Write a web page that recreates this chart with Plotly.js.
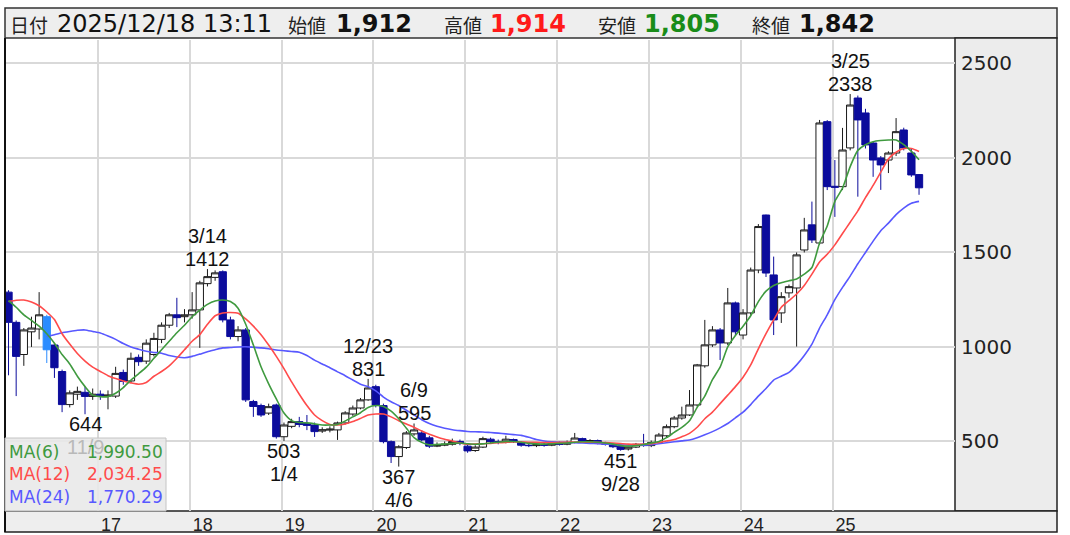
<!DOCTYPE html>
<html><head><meta charset="utf-8">
<script src="https://cdn.plot.ly/plotly-3.0.1.min.js"></script>
<style>html,body{margin:0;padding:0;background:#fff;}#chart{width:1070px;height:535px;}</style>
</head><body><div id="chart"></div>
<script>
// ---- data (monthly candles, Jan 2016 .. Dec 2025) ----
const yearLabels = ['17','18','19','20','21','22','23','24','25'];
const yearStartIndex = [12,24,36,48,60,72,84,96,108];

const open = [
1290,1130,960,1080,1095,1160,1010,870,695,750,
760,738,750,740,740,865,820,945,925,960,
1040,1115,1170,1160,1170,1196,1335,1368,1398,1143,
1055,1090,711,690,650,693,525,580,605,595,
587,555,560,561,598,645,677,720,790,690,
499,420,468,540,545,519,475,480,485,500,
475,452,470,512,500,495,510,495,480,478,
485,480,490,485,495,515,500,505,492,485,
475,460,470,485,478,495,530,578,624,640,
693,900,1011,1090,1021,1233,1063,1180,1407,1698,
1381,1180,1286,1312,1513,1646,1550,2192,1850,1848,
2053,2317,2238,2079,2000,1989,2026,2148,2026,1912];
const high = [
1300,1140,1100,1160,1290,1170,1020,880,770,790,
790,780,770,770,895,880,970,960,1040,1075,
1130,1180,1260,1200,1290,1350,1412,1405,1405,1160,
1110,1100,720,700,700,700,600,620,630,640,
600,575,580,605,660,690,730,831,800,700,
505,480,555,595,560,530,495,500,515,510,
490,480,525,520,510,530,515,500,490,495,
492,498,500,505,545,520,512,510,498,490,
482,478,492,540,505,545,590,635,684,772,
910,1143,1110,1100,1312,1240,1200,1420,1650,1700,
1478,1290,1330,1500,1683,1769,2201,2200,1989,2159,
2338,2330,2260,2085,2010,2035,2211,2160,2050,1914];
const low = [
850,740,900,1000,1040,915,836,655,680,720,
644,720,720,670,730,800,810,900,910,950,
1020,1100,1105,1130,1150,995,1320,1350,1130,1040,
1030,709,630,630,640,515,503,570,575,560,
524,545,548,508,590,635,670,715,680,490,
386,367,460,530,500,465,470,475,478,480,
440,445,465,490,485,490,492,472,470,470,
472,475,478,480,490,495,492,485,478,465,
451,452,465,472,470,490,520,570,615,635,
685,890,1000,931,1010,1060,1040,1170,1390,1370,
1063,1127,1260,1002,1500,1550,1540,1830,1688,1830,
2040,1795,2050,1900,1831,1920,2010,2040,1900,1805];
const close = [
1130,950,1090,1100,1170,985,890,695,757,765,
738,750,740,745,860,818,940,922,1020,1045,
1115,1170,1155,1170,1196,1339,1372,1392,1143,1055,
1090,720,685,640,684,525,587,605,590,585,
552,562,565,598,651,677,720,783,693,499,
420,472,545,561,508,475,480,485,500,490,
450,470,515,500,495,512,500,480,478,485,
480,490,485,495,518,500,505,492,485,472,
458,470,485,478,495,534,578,624,640,693,
905,1011,1090,1021,1233,1080,1180,1407,1637,1391,
1143,1266,1319,1487,1619,1566,2185,1848,1845,2042,
2280,2201,2069,1989,1963,2026,2139,2053,1910,1842];

const ma6 = [
1245,1210,1170,1140,1110,1070,1020,960,910,845,
790,745,737,737,755,785,825,858,893,940,
985,1030,1075,1115,1160,1195,1225,1243,1248,1240,
1205,1120,1010,895,805,725,650,610,600,598,
593,587,587,590,608,630,652,680,690,685,
660,620,570,520,495,482,484,486,490,492,
488,485,487,492,496,500,500,496,490,487,
486,488,490,492,496,498,498,496,492,486,
478,475,478,484,492,500,520,548,575,610,
680,740,827,893,1000,1060,1110,1165,1240,1295,
1325,1340,1350,1360,1385,1420,1550,1640,1770,1840,
1954,2040,2070,2086,2092,2095,2095,2070,2035,1990.5];
const ma12 = [
1240,1247,1248,1238,1218,1185,1145,1070,1015,965,
925,893,870,848,833,820,810,803,812,845,
870,900,940,985,1030,1065,1120,1165,1180,1182,
1178,1148,1110,1065,1010,950,885,815,750,690,
640,610,590,587,592,605,622,640,645,645,
630,610,592,575,555,538,524,512,502,492,
485,486,488,490,493,495,497,497,496,495,
494,494,495,496,497,497,496,495,494,492,
489,486,485,486,488,495,502,510,525,543,
575,620,655,700,745,790,840,905,990,1070,
1143,1210,1245,1280,1325,1385,1450,1490,1540,1600,
1660,1720,1790,1855,1925,1995,2030,2050,2050,2034.25];
const ma24 = [
null,null,null,null,null,1055,1065,1075,1082,1088,
1090,1082,1074,1058,1040,1018,1000,988,977,971,
967,955,947,943,950,962,975,985,995,997,
1000,1001,998,995,990,984,980,976,972,955,
930,910,890,868,848,825,803,790,768,735,
710,690,665,640,615,595,580,570,562,557,
553,551,550,547,544,540,536,532,522,510,
502,498,496,494,493,492,490,488,486,484,
482,481,480,480,483,488,493,498,503,508,
520,535,552,572,595,625,655,695,740,780,
825,845,865,905,955,1015,1100,1170,1250,1315,
1375,1440,1500,1560,1615,1655,1700,1735,1760,1770.29];

const highlightIndex = 5;
const extremeIndex = [26,10,36,47,51,53,80,110];
const extremeKind  = ['high','low','low','high','low','high','low','high'];
const extremeDate  = ['3/14','11/9','1/4','12/23','4/6','6/9','9/28','3/25'];

const headerLabels = ['日付','始値','高値','安値','終値'];
const headerValues = ['2025/12/18 13:11','1,912','1,914','1,805','1,842'];
const maLabels = ['MA(6)','MA(12)','MA(24)'];
const maLast = ['1,990.50','2,034.25','1,770.29'];

// ---- styling / geometry ----
const L = 5, R = 955, T = 40, B = 511;
const px = X => (X - L) / (R - L);
const py = Y => (B - Y) / (B - T);
const NUM_FONT = 'DejaVu Sans, sans-serif';
const LBL_FONT = 'Liberation Sans, Arial, sans-serif';
const JP_FONT = 'Noto Sans CJK JP, sans-serif';
const maColors = ['#3f9a3f', '#ff4b4b', '#5858ff'];
const DOWN = '#0c0c9c';

const idx = open.map((_, i) => i);
const keep = idx.filter(i => i !== highlightIndex);
const pick = (arr, ids) => ids.map(i => arr[i]);

const traces = [
  {type:'candlestick', x:keep, open:pick(open,keep), high:pick(high,keep), low:pick(low,keep), close:pick(close,keep),
   increasing:{line:{color:'#1a1a1a', width:1}, fillcolor:'#ffffff'},
   decreasing:{line:{color:DOWN, width:1}, fillcolor:DOWN},
   whiskerwidth:0, hoverinfo:'skip', showlegend:false},
  {type:'candlestick', x:[highlightIndex], open:[open[highlightIndex]], high:[high[highlightIndex]], low:[low[highlightIndex]], close:[close[highlightIndex]],
   increasing:{line:{color:'#2b8cff', width:1}, fillcolor:'#2b8cff'},
   decreasing:{line:{color:'#2b8cff', width:1}, fillcolor:'#2b8cff'},
   whiskerwidth:0, hoverinfo:'skip', showlegend:false},
  {type:'scatter', mode:'lines', x:idx, y:ma24, line:{color:maColors[2], width:1.6, shape:'spline', smoothing:0.6}, hoverinfo:'skip', showlegend:false},
  {type:'scatter', mode:'lines', x:idx, y:ma12, line:{color:maColors[1], width:1.6, shape:'spline', smoothing:0.6}, hoverinfo:'skip', showlegend:false},
  {type:'scatter', mode:'lines', x:idx, y:ma6, line:{color:maColors[0], width:1.6, shape:'spline', smoothing:0.6}, hoverinfo:'skip', showlegend:false}
];

const annotations = [];
// high / low labels
extremeIndex.forEach((i, k) => {
  const isHigh = extremeKind[k] === 'high';
  const v = isHigh ? high[i] : low[i];
  const s = isHigh ? 1 : -1;
  annotations.push({x:i, y:v, xref:'x', yref:'y', text:String(v), showarrow:false,
    xanchor:'center', yanchor:'middle', yshift:s*10, font:{family:LBL_FONT, size:20, color:'#111'}});
  annotations.push({x:i, y:v, xref:'x', yref:'y', text:extremeDate[k], showarrow:false,
    xanchor:'center', yanchor:'middle', yshift:s*33,
    font:{family:LBL_FONT, size:20, color: extremeDate[k]==='11/9' ? '#b9b9b9' : '#111'}});
});
// header
const hdrLabelX = [8, 286, 442, 596, 750];
const hdrValueX = [55, 334, 488, 642, 797];
const hdrValueColor = ['#111','#111','#ff1a1a','#198c19','#111'];
headerLabels.forEach((t, k) => {
  annotations.push({xref:'paper', yref:'paper', x:px(hdrLabelX[k]), y:py(24), text:t, showarrow:false,
    xanchor:'left', yanchor:'middle', font:{family:JP_FONT, size:19, color:'#222'}});
  annotations.push({xref:'paper', yref:'paper', x:px(hdrValueX[k]), y:py(24),
    text: k === 0 ? headerValues[k] : '<b>' + headerValues[k] + '</b>', showarrow:false,
    xanchor:'left', yanchor:'middle', font:{family:NUM_FONT, size:24, color:hdrValueColor[k]}});
});
// MA legend
const legY = [452, 474, 497];
maLabels.forEach((t, k) => {
  annotations.push({xref:'paper', yref:'paper', x:px(7), y:py(legY[k]), text:t, showarrow:false,
    xanchor:'left', yanchor:'middle', font:{family:NUM_FONT, size:17, color:maColors[k]}});
  annotations.push({xref:'paper', yref:'paper', x:px(165), y:py(legY[k]), text:maLast[k], showarrow:false,
    xanchor:'right', yanchor:'middle', font:{family:NUM_FONT, size:17, color:maColors[k]}});
});

const shapes = [
  {type:'rect', xref:'paper', yref:'paper', x0:px(5), x1:px(1057), y0:py(38), y1:py(8), fillcolor:'#eeeeee', line:{color:'#333', width:1.5}, layer:'below'},
  {type:'rect', xref:'paper', yref:'paper', x0:px(955), x1:px(1057), y0:py(511), y1:py(38), fillcolor:'#ececec', line:{color:'#222', width:1.5}, layer:'below'},
  {type:'rect', xref:'paper', yref:'paper', x0:px(5), x1:px(1057), y0:py(532), y1:py(511), fillcolor:'#eeeeee', line:{color:'#222', width:1.5}, layer:'below'},
  {type:'line', xref:'paper', yref:'paper', x0:px(5), x1:px(5), y0:py(532), y1:py(38), line:{color:'#111', width:2}},
  {type:'rect', xref:'paper', yref:'paper', x0:px(5), x1:px(166), y0:py(511), y1:py(438), fillcolor:'rgba(232,232,232,0.88)', line:{color:'#c4c4c4', width:1}, layer:'above'}
];

const layout = {
  width:1070, height:535,
  margin:{l:L, r:1070-R, t:T, b:535-B, pad:0},
  paper_bgcolor:'#ffffff', plot_bgcolor:'#ffffff',
  showlegend:false, boxgap:0.05, boxgroupgap:0,
  xaxis:{range:[-0.46, 123.7], tickvals:yearStartIndex.map(v => v - 0.3), ticktext:yearLabels,
    showgrid:true, gridcolor:'#d9d9d9', gridwidth:2, zeroline:false, showline:false, ticks:'',
    tickfont:{family:LBL_FONT, size:18, color:'#222'}, ticklabelshift:13, ticklabelstandoff:1,
    rangeslider:{visible:false}, fixedrange:true},
  yaxis:{side:'right', range:[132, 2624], tickvals:[500,1000,1500,2000,2500],
    showgrid:true, gridcolor:'#d9d9d9', gridwidth:2, zeroline:false, showline:false, ticks:'',
    tickfont:{family:NUM_FONT, size:20, color:'#222'}, ticklabelstandoff:5, fixedrange:true},
  shapes, annotations
};

Plotly.newPlot('chart', traces, layout, {displayModeBar:false, staticPlot:true});
</script></body></html>
